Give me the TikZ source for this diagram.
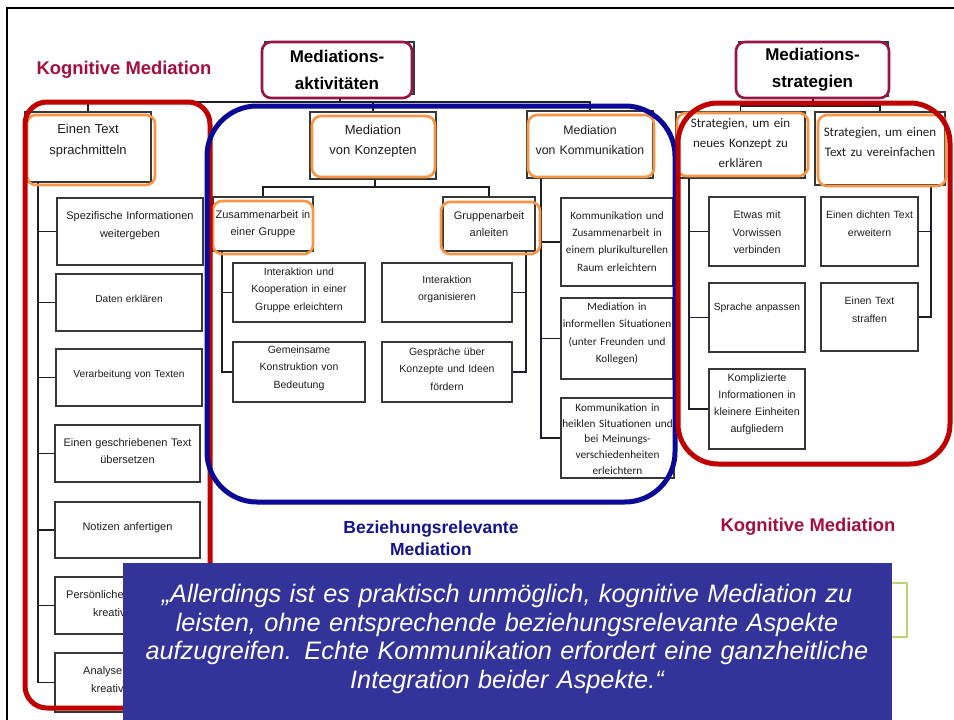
\documentclass[tikz,border=0pt]{standalone}
\usepackage{fontspec}
\setmainfont{Liberation Sans}
\newfontfamily\calfont{Carlito}
\newcommand\fsz[2]{\fontsize{#1}{#2}\selectfont}
\definecolor{boxc}{RGB}{55,55,55}
\definecolor{connc}{RGB}{30,30,40}
\definecolor{txtc}{RGB}{30,30,30}
\definecolor{orngc}{RGB}{247,150,70}
\definecolor{crimc}{RGB}{150,20,70}
\definecolor{labc}{RGB}{165,15,60}
\definecolor{redc}{RGB}{192,0,0}
\definecolor{bluec}{RGB}{10,10,150}
\definecolor{bzc}{RGB}{20,20,140}
\definecolor{quotec}{RGB}{51,51,153}
\definecolor{greenc}{RGB}{185,215,110}
% name x1 y1 x2 y2 textY text textstyle boxstyle
\newcommand\bx[9]{%
 \pgfmathsetmacro\bxw{#4-#2}%
 \pgfmathsetmacro\bxh{#5-#3}%
 \pgfmathsetmacro\bxcx{(#2+#4)/2}%
 \pgfmathsetmacro\bxcy{(#3+#5)/2}%
 \pgfmathsetmacro\bxtw{#4-#2+8}%
 \node[#9, minimum width=\bxw pt, minimum height=\bxh pt] (#1) at (\bxcx pt,-\bxcy pt) {};
 \node[txt, text width=\bxtw pt, #8] (#1-t) at (\bxcx pt,-#6 pt) {#7};}
\newcommand\orr[4]{\draw[orng] (#1pt,-#2pt) rectangle (#3pt,-#4pt);}
\begin{document}
\begin{tikzpicture}[
 box/.style={draw=boxc, line width=1.1pt, fill=white, inner sep=0pt},
 crimbox/.style={draw=crimc, line width=2.6pt, rounded corners=9pt, fill=white, inner sep=0pt},
 orng/.style={draw=orngc, line width=2.6pt, rounded corners=9pt},
 conn/.style={draw=connc, line width=1.9pt},
 txt/.style={inner sep=0pt, align=center, text=txtc},
 big/.style={line width=5pt},
 hd/.style={font=\fsz{17}{27}\bfseries, text=black},
 aA/.style={font=\fsz{13}{20.5}},
 aB/.style={font=\fsz{11}{17.5}},
 aC/.style={font=\fsz{10.5}{17.3}},
 aD/.style={font=\fsz{10.2}{17}},
 cA/.style={font=\calfont\fsz{13}{20.3}},
 cB/.style={font=\calfont\fsz{11.2}{17.2}},
]
\useasboundingbox (0,0) rectangle (954pt,-720pt);
\fill[white] (0,0) rectangle (954pt,-720pt);
\draw[black, line width=1.6pt] (7pt,-722pt) -- (7pt,-8pt) -- (956pt,-8pt);

% shadow rectangles behind the heading boxes
\draw[boxc, line width=1.1pt] (265pt,-42pt) rectangle (414pt,-94pt);
\draw[boxc, line width=1.1pt] (739pt,-42pt) rectangle (888pt,-96pt);

% heading boxes
\bx{akt}{262}{42}{412}{98}{69.5}{Mediations-\\aktivitäten}{hd}{crimbox}
\bx{strat}{736}{42}{889}{98}{69.5}{Mediations-\\strategien}{hd}{crimbox}

% second level
\bx{ets}{25}{112}{151}{182}{140.5}{Einen Text\\sprachmitteln}{aA}{box}
\bx{konz}{310}{112}{436}{179}{141}{Mediation\\von Konzepten}{aA}{box}
\bx{kom}{527}{111}{653}{178}{140}{Mediation\\von Kommunikation}{font=\fsz{12.3}{20}}{box}
\bx{s1}{676}{112}{805}{178}{143}{Strategien, um ein\\neues Konzept zu\\erklären}{cA}{box}
\bx{s2}{815}{112}{945}{185}{142}{Strategien, um einen\\Text zu vereinfachen}{cA}{box}

% left column
\bx{spez}{57}{198}{203}{265}{225.5}{Spezifische Informationen\\weitergeben}{aB}{box}
\bx{daten}{56}{274}{202}{331}{299}{Daten erklären}{aD}{box}
\bx{verarb}{56}{349}{202}{406}{375}{Verarbeitung von Texten}{aD}{box}
\bx{uebers}{55}{425}{200}{482}{451}{Einen geschriebenen Text\\übersetzen}{aB}{box}
\bx{notiz}{55}{502}{200}{558}{528}{Notizen anfertigen}{aB}{box}
\bx{pers}{55}{577}{200}{634}{604}{}{aB}{box}
\bx{analyse}{55}{653}{200}{712}{681}{}{aB}{box}
\node[txt, aB, anchor=west] (pers-a) at (66pt,-595pt) {Persönliche};
\node[txt, aB, anchor=west] (pers-b) at (93pt,-613pt) {kreativ};
\node[txt, aB, anchor=west] (analyse-a) at (83pt,-672pt) {Analyse};
\node[txt, aB, anchor=west] (analyse-b) at (91pt,-689pt) {kreativ};

% Mediation von Konzepten subtree
\bx{zus}{213}{197}{313}{251}{224}{Zusammenarbeit in\\einer Gruppe}{aB}{box}
\bx{grp}{443}{197}{535}{251}{224}{Gruppenarbeit\\anleiten}{aB}{box}
\bx{ik}{233}{263}{365}{322}{290}{Interaktion und\\Kooperation in einer\\Gruppe erleichtern}{aC}{box}
\bx{gk}{233}{342}{365}{402}{368}{Gemeinsame\\Konstruktion von\\Bedeutung}{aC}{box}
\bx{io}{382}{263}{512}{322}{289.5}{Interaktion\\organisieren}{aC}{box}
\bx{gs}{382}{342}{512}{402}{369}{Gespräche über\\Konzepte und Ideen\\fördern}{aC}{box}

% Mediation von Kommunikation subtree
\bx{kk1}{561}{198}{673}{286}{241.5}{Kommunikation und\\Zusammenarbeit in\\einem plurikulturellen\\Raum erleichtern}{cB}{box}
\bx{kk2}{561}{298}{673}{379}{333.5}{Mediation in\\informellen Situationen\\(unter Freunden und\\Kollegen)}{cB}{box}
\bx{kk3}{561}{398}{674}{478}{439}{Kommunikation in\\heiklen Situationen und\\bei Meinungs-\\verschiedenheiten\\erleichtern}{font=\calfont\fsz{11.2}{15.6}}{box}

% strategies subtrees
\bx{ev}{709}{197}{805}{266}{232.5}{Etwas mit\\Vorwissen\\verbinden}{font=\fsz{10.7}{17.5}}{box}
\bx{sa}{709}{283}{805}{352}{308}{Sprache anpassen}{font=\fsz{10.3}{17}}{box}
\bx{kompl}{709}{369}{805}{449}{404.5}{Komplizierte\\Informationen in\\kleinere Einheiten\\aufgliedern}{font=\fsz{10.7}{17}}{box}
\bx{dt}{821}{197}{918}{266}{224}{Einen dichten Text\\erweitern}{font=\fsz{10.5}{17.7}}{box}
\bx{ts}{821}{283}{918}{351}{310}{Einen Text\\straffen}{font=\fsz{10.5}{18}}{box}

% connectors
\coordinate (tbar) at (340pt,-102pt);
\draw[conn] (tbar |- akt.south) -- (tbar);
\draw[conn] (ets.north) |- (tbar);
\draw[conn] (kom.north) |- (tbar);
\draw[conn] (konz.north) -- (konz.north |- tbar);
\coordinate (sbar) at (813pt,-106pt);
\draw[conn] (sbar |- strat.south) -- (sbar);
\draw[conn] (s1.north) |- (sbar);
\draw[conn] (s2.north) |- (sbar);
\coordinate (kbar) at (375pt,-187pt);
\draw[conn] (kbar |- konz.south) -- (kbar);
\draw[conn] (zus.north) |- (kbar);
\draw[conn] (grp.north) |- (kbar);
\coordinate (lcol) at (38pt,-182pt);
\foreach \b in {spez,daten,verarb,uebers,notiz,pers,analyse} \draw[conn] (lcol) |- (\b.west);
\coordinate (kcol) at (541pt,-178pt);
\foreach \b in {kk1,kk2,kk3} \draw[conn] (kcol) |- (\b.west);
\coordinate (scol) at (689pt,-178pt);
\foreach \b in {ev,sa,kompl} \draw[conn] (scol) |- (\b.west);
\coordinate (rcol) at (931pt,-185pt);
\foreach \b in {dt,ts} \draw[conn] (rcol) |- (\b.east);
\coordinate (zcol) at (222pt,-251pt);
\foreach \b in {ik,gk} \draw[conn] (zcol) |- (\b.west);
\coordinate (gcol) at (526pt,-251pt);
\foreach \b in {io,gs} \draw[conn] (gcol) |- (\b.east);

% orange highlights
\orr{27}{115}{155}{185}
\orr{312}{116}{435}{177}
\orr{528}{115}{654}{177}
\orr{677}{113}{808}{176}
\orr{818}{115}{946}{186}
\orr{213}{201}{313}{254}
\orr{441}{202}{540}{254}

% big groupings
\draw[big, draw=redc, rounded corners=22pt] (25pt,-102pt) rectangle (210pt,-708pt);
\draw[big, draw=bluec, rounded corners=50pt] (207pt,-106pt) rectangle (675pt,-502pt);
\draw[big, draw=redc, rounded corners=40pt] (678pt,-103pt) rectangle (950pt,-464pt);

% labels
\node[font=\fsz{18.4}{22}\bfseries, text=labc, inner sep=0pt] (kmtop) at (124pt,-70pt) {Kognitive Mediation};
\node[font=\fsz{18.4}{22}\bfseries, text=labc, inner sep=0pt] (kmbot) at (808pt,-527pt) {Kognitive Mediation};
\node[font=\fsz{17.5}{22}\bfseries, text=bzc, align=center, inner sep=0pt] (bz) at (431pt,-538pt) {Beziehungsrelevante\\Mediation};

% partly hidden green frame
\draw[greenc, line width=1.5pt] (600pt,-583pt) rectangle (907pt,-637pt);

% quote
\node[fill=quotec, minimum width=769pt, minimum height=165pt, inner sep=0pt] (qbox) at (507.5pt,-645.5pt) {};
\node[txt, text=white, font=\fsz{25.3}{28.8}\itshape, text width=780pt] (quote) at (507pt,-639pt)
 {„Allerdings ist es praktisch unmöglich, kognitive Mediation zu\\leisten, ohne entsprechende beziehungsrelevante Aspekte\\aufzugreifen. Echte Kommunikation erfordert eine ganzheitliche\\Integration beider Aspekte.“};
\end{tikzpicture}
\end{document}
